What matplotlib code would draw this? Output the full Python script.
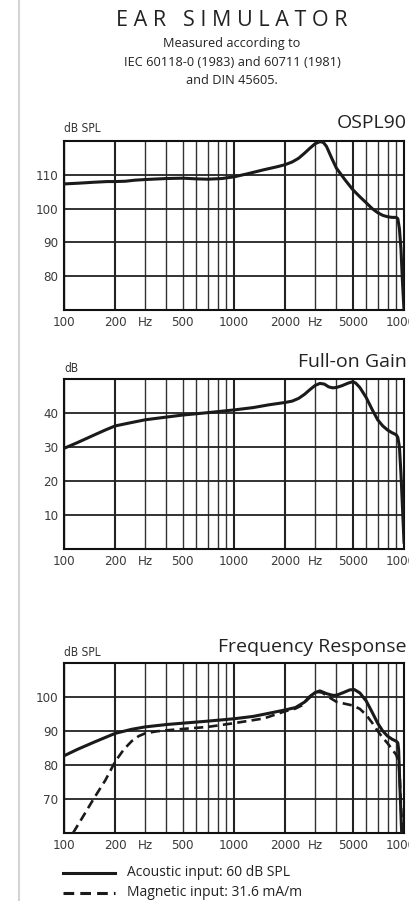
import matplotlib
matplotlib.use('Agg')
import matplotlib.pyplot as plt
from matplotlib.lines import Line2D

W, H = 409, 902

# ---- data ----
ospl_f = [100, 120, 150, 180, 200, 230, 260, 300, 400, 500, 600, 700, 850, 1000, 1200, 1500,
          1800, 2000, 2200, 2400, 2600, 2800, 3000, 3200, 3350, 3500, 3750, 4000, 4500, 5000,
          5500, 6000, 6500, 7000, 7500, 8000, 8500, 9000, 9200, 9400, 9600, 9800, 10000]
ospl_v = [107.3, 107.5, 107.8, 108.0, 108.0, 108.1, 108.4, 108.6, 108.9, 109.0, 108.8, 108.7,
          108.9, 109.4, 110.3, 111.5, 112.4, 113.0, 113.8, 114.9, 116.4, 117.9, 119.2, 119.8,
          119.6, 118.4, 115.0, 112.0, 108.5, 105.6, 103.5, 101.7, 100.0, 98.8, 98.0, 97.6,
          97.4, 97.4, 97.0, 94.0, 88.0, 78.0, 70.0]

gain_f = [100, 120, 150, 175, 200, 250, 300, 400, 500, 700, 1000, 1300, 1600, 2000, 2200,
          2400, 2600, 2800, 3000, 3200, 3400, 3600, 3800, 4000, 4300, 4700, 5000, 5200, 5500,
          6000, 6500, 7000, 7500, 8000, 8500, 9000, 9200, 9400, 9600, 9800, 10000]
gain_v = [29.6, 31.3, 33.5, 35.0, 36.2, 37.2, 38.0, 38.8, 39.4, 40.1, 40.9, 41.6, 42.4, 43.1,
          43.5, 44.3, 45.5, 46.9, 48.1, 48.7, 48.5, 47.7, 47.4, 47.5, 48.0, 48.8, 49.2, 48.8,
          47.5, 44.5, 41.0, 38.0, 36.2, 35.0, 34.2, 33.6, 32.8, 30.0, 22.0, 12.0, 2.0]

acoustic_f = [100, 120, 150, 175, 200, 250, 300, 400, 500, 700, 1000, 1300, 1600, 2000, 2300,
              2600, 2800, 3000, 3200, 3500, 3800, 4000, 4400, 4800, 5100, 5500, 6000, 6500,
              7000, 7500, 8000, 8500, 9000, 9200, 9300, 9470, 9690]
acoustic_v = [82.7, 84.6, 86.7, 88.1, 89.3, 90.5, 91.2, 91.9, 92.3, 92.9, 93.6, 94.3, 95.2, 96.2,
              96.9, 98.5, 100.2, 101.3, 101.8, 101.0, 100.5, 100.5, 101.3, 102.1, 102.2, 101.2,
              98.8, 95.5, 92.3, 90.0, 88.5, 87.6, 87.0, 86.5, 84.5, 73.0, 60.0]

magnetic_f = [113, 130, 150, 175, 200, 225, 250, 275, 300, 350, 400, 500, 700, 1000, 1500,
              2000, 2300, 2500, 2700, 2900, 3100, 3300, 3600, 4000, 4500, 5000, 5500, 6000,
              6500, 7000, 7500, 8000, 9000, 9300, 9450, 9600, 9800]
magnetic_v = [60.0, 65.0, 70.2, 75.5, 81.0, 84.6, 87.0, 88.5, 89.3, 89.9, 90.2, 90.6, 91.2,
              92.3, 93.7, 95.8, 96.6, 97.5, 99.2, 100.6, 101.5, 101.3, 100.0, 98.6, 98.0, 97.5,
              96.5, 94.7, 92.4, 90.0, 88.0, 86.4, 83.0, 81.0, 76.0, 68.0, 60.0]

xtick_pos = [100, 200, 300, 500, 1000, 2000, 3000, 5000, 10000]
xtick_lab = ['100', '200', 'Hz', '500', '1000', '2000', 'Hz', '5000', '10000']

narrow = ['Liberation Sans Narrow', 'DejaVu Sans']
title_font = ['Open Sans', 'DejaVu Sans']
ink = '#1a1a1a'

fig = plt.figure(figsize=(W / 100, H / 100), dpi=100)
fig.patch.set_facecolor('white')


def px(x, y):
    return x / W, 1 - y / H


def panel(top, bottom, ylim, yticks, title, unit, title_y, unit_y):
    ax = fig.add_axes([64 / W, 1 - bottom / H, 340 / W, (bottom - top) / H])
    ax.set_xscale('log')
    ax.set_xlim(100, 10000)
    ax.set_ylim(*ylim)
    for dec in (100, 1000):
        for m in range(1, 10):
            f = dec * m
            if f in (200, 1000, 2000, 5000):
                ax.axvline(f, color='#222222', lw=1.5, zorder=1)
            else:
                ax.axvline(f, color='#333333', lw=1.0, zorder=1)
    for y in yticks:
        ax.axhline(y, color='#222222', lw=1.3, zorder=1)
    ax.minorticks_off()
    ax.set_xticks(xtick_pos)
    ax.set_xticklabels(xtick_lab)
    ax.set_yticks(yticks)
    ax.set_yticklabels([str(t) for t in yticks])
    ax.tick_params(length=0, pad=4, labelsize=9.5, labelcolor='#3a3a3a')
    for lab in ax.get_xticklabels() + ax.get_yticklabels():
        lab.set_family(narrow)
        lab.set_stretch('condensed')
    for s in ax.spines.values():
        s.set_color('#111111')
        s.set_linewidth(1.5)
    fig.text(*px(407, title_y), title, ha='right', va='center', fontsize=14,
             family=title_font, color='#222222')
    fig.text(*px(64, unit_y), unit, ha='left', va='center', fontsize=8.5,
             family=narrow, stretch='condensed', color='#333333')
    return ax


# heading
fig.text(*px(232, 20), 'E A R   S I M U L A T O R', ha='center', va='center',
         fontsize=15.5, family=title_font, color='#222222')
fig.text(*px(232, 43), 'Measured according to', ha='center', va='center',
         fontsize=9.2, family=title_font, color='#222222')
fig.text(*px(232, 62), 'IEC 60118-0 (1983) and 60711 (1981)', ha='center', va='center',
         fontsize=9.2, family=title_font, color='#222222')
fig.text(*px(232, 80), 'and DIN 45605.', ha='center', va='center',
         fontsize=9.2, family=title_font, color='#222222')

ax1 = panel(141, 310, (70, 120), [80, 90, 100, 110], 'OSPL90', 'dB SPL', 123, 129)
ax1.plot(ospl_f, ospl_v, color=ink, lw=2.2, zorder=3, solid_joinstyle='round')

ax2 = panel(379, 549, (0, 50), [10, 20, 30, 40], 'Full-on Gain', 'dB', 362, 368)
ax2.plot(gain_f, gain_v, color=ink, lw=2.2, zorder=3, solid_joinstyle='round')

ax3 = panel(663, 833, (60, 110), [70, 80, 90, 100], 'Frequency Response', 'dB SPL', 647, 653)
ax3.plot(acoustic_f, acoustic_v, color=ink, lw=2.2, zorder=3, solid_joinstyle='round')
ax3.plot(magnetic_f, magnetic_v, color=ink, lw=1.9, ls=(0, (3.5, 2)), zorder=3)

# legend drawn by hand below the last panel
x0, y0 = px(63, 873)
x1, _ = px(115, 873)
fig.add_artist(Line2D([x0, x1], [y0, y0], color=ink, lw=2.2, transform=fig.transFigure))
_, y1 = px(63, 893)
fig.add_artist(Line2D([x0, x1], [y1, y1], color=ink, lw=2.2, ls=(0, (3.5, 2)),
                      transform=fig.transFigure))
fig.text(*px(127, 873), 'Acoustic input: 60 dB SPL', ha='left', va='center',
         fontsize=10, family=title_font, color='#222222')
fig.text(*px(127, 893), 'Magnetic input: 31.6 mA/m', ha='left', va='center',
         fontsize=10, family=title_font, color='#222222')

# page margin line on the left
gx = 19 / W
fig.add_artist(Line2D([gx, gx], [1 - 900 / H, 1], color='#d4d4d4', lw=1.5,
                      transform=fig.transFigure))

fig.savefig('out.png', dpi=100)
